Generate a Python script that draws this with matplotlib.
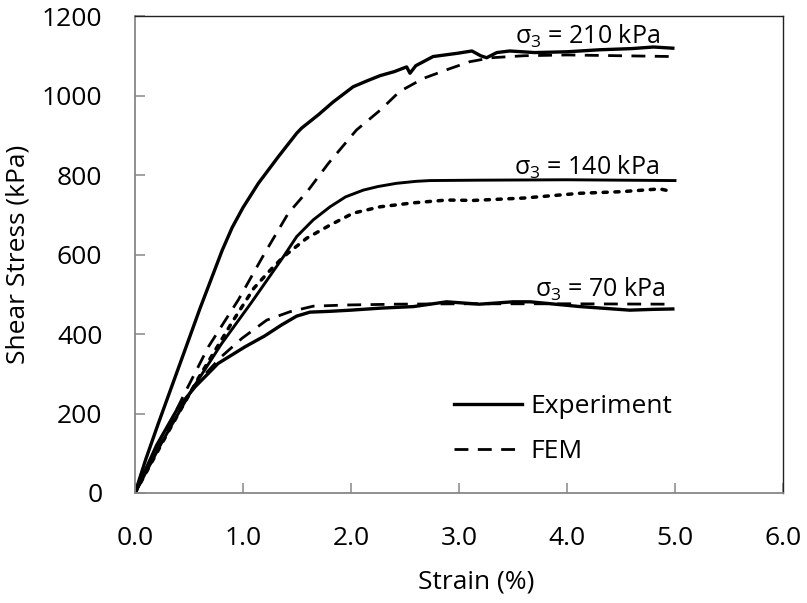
import matplotlib
matplotlib.use("Agg")
import matplotlib.pyplot as plt
from matplotlib.lines import Line2D

FONT = 'Open Sans'
plt.rcParams['font.family'] = [FONT, 'DejaVu Sans']
plt.rcParams['mathtext.fontset'] = 'custom'
plt.rcParams['mathtext.rm'] = FONT

# ---- data (strain %, shear stress kPa) ----
exp210_x = [0, 0.1, 0.216, 0.463, 0.6, 0.808, 0.9, 1.0, 1.142, 1.327, 1.497, 1.543, 1.70, 1.836, 2.02, 2.15,
            2.27, 2.40, 2.515, 2.546, 2.60, 2.76, 2.98, 3.12, 3.20, 3.256, 3.35, 3.47, 3.7, 4.0, 4.3, 4.6, 4.8, 4.98]
exp210_y = [0, 85, 175, 360, 463, 611, 668, 718, 779, 846, 905, 918, 952, 984, 1022, 1037,
            1050, 1060, 1072, 1056, 1075, 1098, 1106, 1112, 1100, 1095, 1108, 1112, 1108, 1110, 1115, 1118, 1122, 1119]

fem210_x = [0, 0.34, 0.46, 0.68, 0.957, 1.20, 1.42, 1.605, 1.79, 2.05, 2.27, 2.45, 2.67, 2.92, 3.10, 3.3, 3.6, 4.0, 4.5, 4.98]
fem210_y = [0, 184, 251, 368, 486, 603, 704, 762, 829, 913, 963, 1010, 1043, 1068, 1085, 1095, 1100, 1102, 1100, 1098]

exp140_x = [0, 0.25, 0.525, 0.8, 1.08, 1.373, 1.497, 1.65, 1.806, 1.95, 2.114, 2.25, 2.42, 2.6, 2.73, 3.19, 4.0, 5.0]
exp140_y = [0, 128, 259, 375, 480, 594, 645, 687, 720, 745, 762, 771, 779, 784, 786, 787, 788, 786]

fem140_x = [0, 0.3, 0.6, 0.9, 1.1, 1.25, 1.373, 1.59, 1.806, 2.02, 2.27, 2.58, 2.886, 3.13, 3.6, 4.12, 4.5, 4.86, 4.98]
fem140_y = [0, 150, 295, 430, 515, 560, 594, 641, 674, 704, 720, 730, 737, 736, 742, 754, 758, 765, 758]

exp70_x = [0, 0.2, 0.4, 0.556, 0.77, 1.02, 1.2, 1.358, 1.497, 1.62, 1.8, 2.0, 2.27, 2.58, 2.886, 3.19, 3.50, 3.66, 4.12, 4.58, 4.8, 4.98]
exp70_y = [0, 120, 215, 267, 326, 368, 395, 423, 445, 455, 457, 460, 465, 469, 481, 475, 481, 481, 469, 460, 462, 463]

fem70_x = [0, 0.2, 0.4, 0.55, 0.80, 0.99, 1.22, 1.435, 1.65, 1.96, 2.42, 3.0, 4.0, 4.95]
fem70_y = [0, 105, 205, 270, 343, 389, 435, 456, 470, 473, 475, 476, 476, 475]

x_ticks = [0, 1, 2, 3, 4, 5, 6]
y_ticks = [0, 200, 400, 600, 800, 1000, 1200]
labels = [r'$\mathregular{σ_3}$ = 210 kPa', r'$\mathregular{σ_3}$ = 140 kPa', r'$\mathregular{σ_3}$ = 70 kPa']
label_pos = [(4.19, 1130), (4.18, 800), (4.31, 493)]

FS = 19

fig = plt.figure(figsize=(8.07, 6.03), dpi=100)
ax = fig.add_axes([135/807, 1-493/603, 648/807, 477/603])

exp_kw = dict(color='black', lw=2.4, solid_joinstyle='round')
dash_kw = dict(color='black', lw=2.0, dashes=(5, 3.4))
dot_kw = dict(color='black', lw=2.5, dashes=(1.2, 2.2), dash_capstyle='round')

ax.plot(exp210_x, exp210_y, **exp_kw)
ax.plot(fem210_x, fem210_y, **dash_kw)
ax.plot(exp140_x, exp140_y, color='black', lw=2.1)
ax.plot(fem140_x, fem140_y, **dot_kw)
ax.plot(exp70_x, exp70_y, **exp_kw)
ax.plot(fem70_x, fem70_y, **dash_kw)

for t, (tx, ty) in zip(labels, label_pos):
    ax.text(tx, ty, t, ha='center', va='baseline', fontsize=FS - 1)

ax.set_xlim(0, 6)
ax.set_ylim(0, 1200)
ax.set_xticks(x_ticks)
ax.set_xticklabels([f'{v:.1f}' for v in x_ticks])
ax.set_yticks(y_ticks)
ax.set_yticklabels([str(v) for v in y_ticks])

gray = '#878787'
for s in ['left', 'bottom']:
    ax.spines[s].set_color(gray)
    ax.spines[s].set_linewidth(1.3)
for s in ['top', 'right']:
    ax.spines[s].set_color('#222222')
    ax.spines[s].set_linewidth(1.0)
ax.tick_params(axis='both', direction='in', length=7, width=1.1, color=gray, labelsize=FS)
ax.tick_params(axis='y', pad=23.5)
ax.tick_params(axis='x', pad=24.0)

ax.set_xlabel('Strain (%)', fontsize=FS, va='center')
ax.xaxis.set_label_coords(0.526, -0.1860)
ax.set_ylabel('Shear Stress (kPa)', fontsize=FS, va='center')
ax.yaxis.set_label_coords(-0.1806, 0.501)

handles = [Line2D([], [], **exp_kw), Line2D([], [], **dash_kw)]
leg = ax.legend(handles, ['Experiment', 'FEM'], loc='upper left', bbox_to_anchor=(0.492, 0.207),
                frameon=False, fontsize=FS, handlelength=2.6, handletextpad=0.3,
                borderpad=0, borderaxespad=0, labelspacing=0.75)

fig.savefig('out.png', dpi=100)
